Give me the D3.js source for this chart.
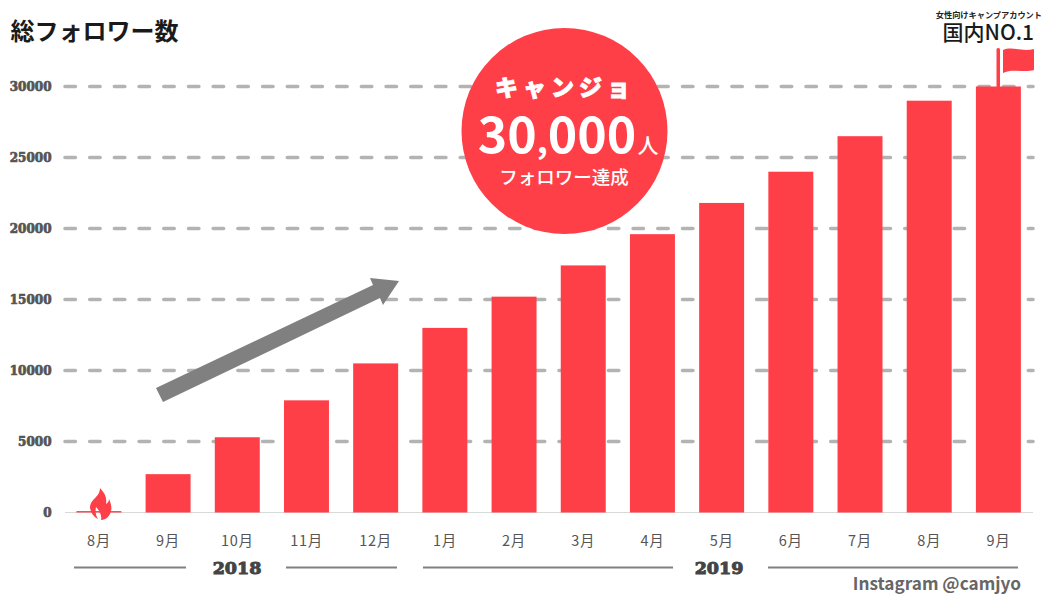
<!DOCTYPE html>
<html>
<head>
<meta charset="utf-8">
<script src="https://cdn.jsdelivr.net/npm/d3@7"></script>
<style>
  html, body { margin: 0; padding: 0; background: #fff; }
  svg { display: block; }
  text { font-family: "Noto Sans CJK JP", "Noto Sans", sans-serif; }
  .heavy { font-family: "DejaVu Serif", serif; font-weight: 700; }
</style>
</head>
<body>
<svg id="chart" width="1043" height="594"></svg>
<script>
var months = ["8月", "9月", "10月", "11月", "12月", "1月", "2月", "3月", "4月", "5月", "6月", "7月", "8月", "9月"];
var followers = [100, 2700, 5300, 7900, 10500, 13000, 15200, 17400, 19600, 21800, 24000, 26500, 29000, 30000];
var yTicks = [0, 5000, 10000, 15000, 20000, 25000, 30000];
var monthKeys = months.map((m, i) => i);

var svg = d3.select("#chart");
var red = "#ff3f48";

var x = d3.scaleBand()
          .domain(monthKeys)
          .range([64.3, 1033])
          .paddingInner(0.35)
          .paddingOuter(0.175);

var y = d3.scaleLinear()
          .domain([0, 30000])
          .range([512.5, 86.5]);

// dashed grid
svg.append("g")
    .selectAll("line")
    .data(yTicks.filter(d => d > 0))
    .enter()
    .append("line")
    .attr("x1", 65)
    .attr("x2", 1033)
    .attr("y1", d => y(d))
    .attr("y2", d => y(d))
    .attr("stroke", "#b3b3b3")
    .attr("stroke-width", 3.6)
    .attr("stroke-linecap", "round")
    .attr("stroke-dasharray", "10.4 14.3");

// y axis labels
var yAxis = svg.append("g")
    .attr("transform", "translate(51.5, 0)")
    .call(d3.axisLeft(y).tickValues(yTicks).tickFormat(d3.format("d")).tickSize(0).tickPadding(0));
yAxis.select(".domain").remove();
yAxis.selectAll("text")
    .attr("class", "heavy")
    .attr("font-size", "12px")
    .attr("fill", "#555")
    .attr("stroke", "#555")
    .attr("stroke-width", 0.7);

// baseline
svg.append("line")
    .attr("x1", 65)
    .attr("x2", 1033)
    .attr("y1", y(0))
    .attr("y2", y(0))
    .attr("stroke", "#d9d9d9")
    .attr("stroke-width", 1.2);

// bars
svg.append("g")
    .selectAll("rect")
    .data(followers)
    .enter()
    .append("rect")
    .attr("x", (d, i) => x(i))
    .attr("y", d => y(d))
    .attr("width", x.bandwidth())
    .attr("height", d => y(0) - y(d))
    .attr("fill", red);

// month labels
var xAxis = svg.append("g")
    .attr("transform", "translate(0, 535.5)")
    .call(d3.axisBottom(x).tickFormat(i => months[i]).tickSize(0).tickPadding(0));
xAxis.select(".domain").remove();
xAxis.selectAll("text")
    .attr("font-size", "14.5px")
    .attr("letter-spacing", "0.7px")
    .attr("fill", "#555")
    .style("font-family", "'Noto Sans CJK JP'");

// year brackets
var yearLines = [[74, 186], [286, 397], [423, 673], [768, 1018]];
svg.append("g")
    .selectAll("line")
    .data(yearLines)
    .enter()
    .append("line")
    .attr("x1", d => d[0])
    .attr("x2", d => d[1])
    .attr("y1", 567.5)
    .attr("y2", 567.5)
    .attr("stroke", "#808080")
    .attr("stroke-width", 2);

function label(txt, px, py, size, color, weight, anchor) {
  return svg.append("text")
      .attr("x", px)
      .attr("y", py)
      .attr("font-size", size + "px")
      .attr("fill", color)
      .attr("font-weight", weight)
      .attr("text-anchor", anchor || "start")
      .text(txt);
}

label("2018", 237, 573.5, 17.5, "#444", 700, "middle").attr("class", "heavy").attr("stroke", "#444").attr("stroke-width", 1);
label("2019", 719, 573.5, 17.5, "#444", 700, "middle").attr("class", "heavy").attr("stroke", "#444").attr("stroke-width", 1);
label("Instagram @camjyo", 1021, 590, 17.2, "#666", 700, "end");

// titles
label("総フォロワー数", 10.5, 40, 24, "#1a1a1a", 700);
label("女性向けキャンプアカウント", 1042, 17.5, 8.2, "#222", 700, "end");
label("国内NO.1", 1034, 40, 21, "#1a1a1a", 500, "end");

// growth arrow
svg.append("path")
    .attr("d", "M156,388 L373,285 L370,278 L399,281 L383,305 L380,298 L163,402 Z")
    .attr("fill", "#808080");

// badge
svg.append("circle")
    .attr("cx", 564.5)
    .attr("cy", 131)
    .attr("r", 103)
    .attr("fill", red);
label("キャンジョ", 565, 96, 23, "#fff", 900, "middle")
    .attr("letter-spacing", "5px")
    .attr("stroke", "#fff")
    .attr("stroke-width", 0.8);
var big = label("", 557, 153, 50, "#fff", 700, "middle");
big.append("tspan").text("30");
big.append("tspan").attr("font-size", "34px").text(",");
big.append("tspan").text("000");
label("人", 648, 153, 21, "#fff", 500, "middle");
label("フォロワー達成", 564, 184, 18.5, "#fff", 500, "middle");

// flag on last bar
svg.append("rect")
    .attr("x", 996.5)
    .attr("y", 48)
    .attr("width", 3.5)
    .attr("height", 40)
    .attr("rx", 1.5)
    .attr("fill", red);
svg.append("path")
    .attr("d", "M1003,50 C1012,46 1022,52 1034,49 L1034,70 C1024,73 1012,68 1003,73 Z")
    .attr("fill", red);

// flame on first bar
svg.append("path")
    .attr("d", "M100,488 C105,493 107,498 106,504 C108,503 109,501 109,499 C111,503 112,508 111,511 C110,516 106,520 101,520 C102,516 100,511 96,507 C95,512 96,516 98,519 C94,517 91,513 90,508 C90,503 93,500 96,497 C99,494 100,491 100,488 Z")
    .attr("fill", red);
</script>
</body>
</html>
